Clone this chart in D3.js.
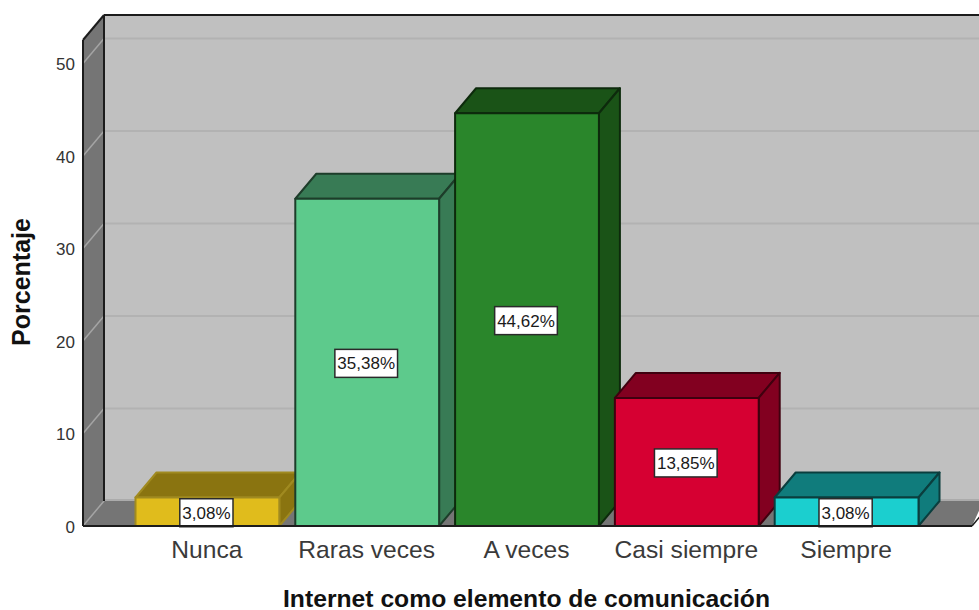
<!DOCTYPE html>
<html><head><meta charset="utf-8">
<script src="https://cdn.jsdelivr.net/npm/d3@7/dist/d3.min.js"></script>
<style>html,body{margin:0;padding:0;background:#fff;overflow:hidden}svg{display:block}text{font-family:"Liberation Sans",Arial,sans-serif}</style>
</head><body><div id="chart"></div>
<script>
const categories = ["Nunca","Raras veces","A veces","Casi siempre","Siempre"];
const values = [3.08,35.38,44.62,13.85,3.08];
const valueLabels = ["3,08%","35,38%","44,62%","13,85%","3,08%"];
const frontColors = ["#e0bc1c","#5dca8c","#2a862b","#d60032","#1bcfcf"];
const topColors = ["#8a7410","#387b55","#1a5317","#820020","#107c7c"];
const sideColors = ["#8a7410","#387b55","#1a5317","#820020","#107c7c"];
const strokeColors = ["#a08a20","#1d3d2a","#0d2a0c","#40000f","#0a3e3e"];
const yTicks = [0,10,20,30,40,50];
const xTitle = "Internet como elemento de comunicación";
const yTitle = "Porcentaje";

const W=979,H=610, depthX=21, depthY=25;
const svg=d3.select("#chart").append("svg").attr("width",W).attr("height",H);
const y=d3.scaleLinear().domain([0,50]).range([526,63.5]);
const x=d3.scaleBand().domain(categories).range([127.5,926.5]).paddingInner(0.1).paddingOuter(0.05);
const leftX=83,rightX=972,topY=40;
const poly=(pts,fill,stroke,sw)=>svg.append("polygon").attr("points",pts.map(p=>p.join(",")).join(" ")).attr("fill",fill).attr("stroke",stroke||"none").attr("stroke-width",sw||0).attr("stroke-linejoin","round");
// walls
poly([[leftX+depthX,topY-depthY],[W+5,topY-depthY],[W+5,526-depthY],[leftX+depthX,526-depthY]],"#c0c0c0");
poly([[leftX,topY],[leftX+depthX,topY-depthY],[leftX+depthX,526-depthY],[leftX,526]],"#757575");
poly([[leftX,526],[leftX+depthX,526-depthY],[W+5,526-depthY],[W+5,500],[rightX,526]],"#757575");
// grid
yTicks.filter(d=>d>0).forEach(d=>{
  svg.append("line").attr("x1",leftX+depthX).attr("x2",W).attr("y1",y(d)-depthY).attr("y2",y(d)-depthY).attr("stroke","#b2b2b2").attr("stroke-width",2);
  svg.append("line").attr("x1",leftX).attr("x2",leftX+depthX).attr("y1",y(d)).attr("y2",y(d)-depthY).attr("stroke","#a4a4a4").attr("stroke-width",1.5);
});
svg.append("line").attr("x1",leftX+depthX).attr("x2",W).attr("y1",526-depthY-1).attr("y2",526-depthY-1).attr("stroke","#a4a4a4").attr("stroke-width",1.5);
svg.append("line").attr("x1",leftX).attr("x2",leftX+depthX).attr("y1",526).attr("y2",526-depthY).attr("stroke","#a4a4a4").attr("stroke-width",1.5);
// frame
const line=(a,b,w)=>svg.append("line").attr("x1",a[0]).attr("y1",a[1]).attr("x2",b[0]).attr("y2",b[1]).attr("stroke","#1c1c1c").attr("stroke-width",w||2);
line([leftX+depthX,topY-depthY],[W,topY-depthY]);
line([leftX+depthX,topY-depthY],[leftX+depthX,526-depthY]);
line([leftX+depthX,topY-depthY],[leftX,topY]);
line([leftX,topY],[leftX,526]);
line([leftX,526],[rightX,526]);
line([rightX,526],[rightX+depthX,526-depthY],1.5);
// bars
categories.forEach((c,i)=>{
  const x0=x(c),x1=x0+x.bandwidth(),yt=y(values[i]),yb=y(0),s=strokeColors[i];
  poly([[x0,yt],[x0+depthX,yt-depthY],[x1+depthX,yt-depthY],[x1,yt]],topColors[i],s,2);
  poly([[x1,yt],[x1+depthX,yt-depthY],[x1+depthX,yb-depthY],[x1,yb]],sideColors[i],s,2);
  poly([[x0,yt],[x1,yt],[x1,yb],[x0,yb]],frontColors[i],s,2);
  const cx=(x0+x1)/2, cy=(yt+yb)/2;
  const t=svg.append("text").attr("x",cx-1).attr("y",cy+7).attr("text-anchor","middle").attr("font-size",17).attr("fill","#1a1a1a").text(valueLabels[i]);
  const b=t.node().getBBox();
  svg.insert("rect",()=>t.node()).attr("x",b.x-2.5).attr("y",cy-13).attr("width",b.width+5).attr("height",28).attr("fill","#fff").attr("stroke","#2a2a2a").attr("stroke-width",1.5);
});
line([leftX,526],[rightX,526],2);
// axes
const yAxis=d3.axisLeft(y).tickValues(yTicks).tickSize(0).tickPadding(0).tickFormat(d3.format("d"));
const gy=svg.append("g").attr("transform","translate(75,1)").call(yAxis);
gy.select(".domain").remove();
gy.selectAll("text").attr("font-size",17).attr("fill","#333").style("font-family",'"Liberation Sans",Arial,sans-serif');
const xAxis=d3.axisBottom(x).tickSize(0).tickPadding(0);
const gx=svg.append("g").attr("transform","translate(-0.5,540)").call(xAxis);
gx.select(".domain").remove();
gx.selectAll("text").attr("font-size",24.6).attr("fill","#3a3a3a").attr("dy","0.75em").style("font-family",'"Liberation Sans",Arial,sans-serif');
svg.append("text").attr("x",526.5).attr("y",607).attr("text-anchor","middle").attr("font-size",24.7).attr("font-weight","bold").attr("fill","#111").text(xTitle);
svg.append("text").attr("transform","translate(30,282) rotate(-90)").attr("text-anchor","middle").attr("font-size",25).attr("font-weight","bold").attr("fill","#111").text(yTitle);
</script></body></html>
